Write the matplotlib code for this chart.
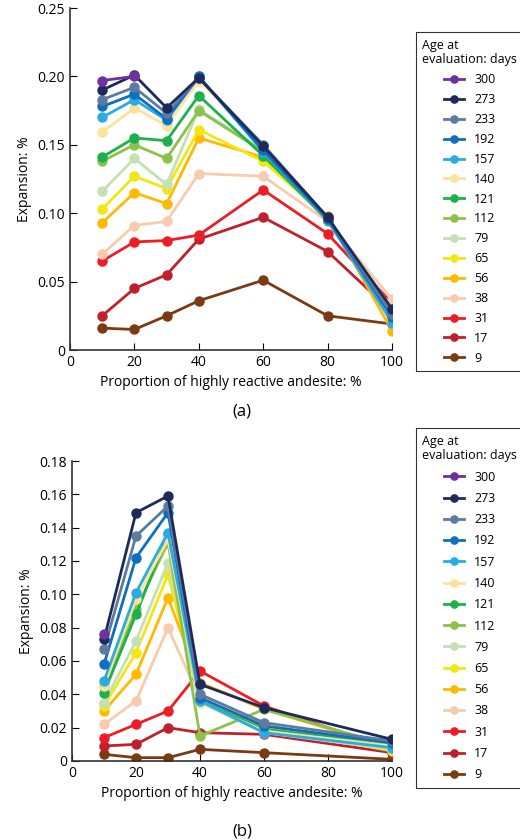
import numpy as np
import matplotlib.pyplot as plt

plt.rcParams['font.family'] = ['Open Sans', 'DejaVu Sans']

ages = [300, 273, 233, 192, 157, 140, 121, 112, 79, 65, 56, 38, 31, 17, 9]
colors = ['#7030A0', '#1F2A5C', '#5B7BA0', '#0F6EBE', '#2AACE2', '#FCE29A', '#1DB04B',
          '#8BC34A', '#C5E0B4', '#F2E615', '#FFB900', '#F8CBAD', '#EE1C25', '#C0202A', '#7B3A12']

# panel (a)
x_a = [10, 20, 30, 40, 60, 80, 100]
exp_a = {
    300: [0.197, 0.200],
    273: [0.190, 0.201, 0.177, 0.199, 0.149, 0.097, 0.030],
    233: [0.183, 0.192, 0.173, 0.199, 0.150, 0.097, 0.026],
    192: [0.178, 0.187, 0.169, 0.200, 0.146, 0.096, 0.024],
    157: [0.170, 0.183, 0.168, 0.200, 0.145, 0.095, 0.020],
    140: [0.159, 0.177, 0.164, 0.197, 0.150, 0.097, 0.030],
    121: [0.141, 0.155, 0.153, 0.186, 0.142, 0.095, 0.028],
    112: [0.138, 0.150, 0.140, 0.175, 0.145, 0.094, 0.027],
    79: [0.116, 0.140, 0.121, 0.176, 0.146, 0.095, 0.030],
    65: [0.103, 0.127, 0.118, 0.161, 0.138, 0.097, 0.025],
    56: [0.093, 0.115, 0.107, 0.155, 0.141, 0.098, 0.014],
    38: [0.070, 0.091, 0.094, 0.129, 0.127, 0.094, 0.037],
    31: [0.065, 0.079, 0.080, 0.084, 0.117, 0.085, 0.034],
    17: [0.025, 0.045, 0.055, 0.081, 0.097, 0.072, 0.028],
    9: [0.016, 0.015, 0.025, 0.036, 0.051, 0.025, 0.019],
}

# panel (b)
x_b = [10, 20, 30, 40, 60, 100]
exp_b = {
    300: [0.076],
    273: [0.073, 0.149, 0.159, 0.046, 0.032, 0.013],
    233: [0.067, 0.135, 0.153, 0.040, 0.023, 0.012],
    192: [0.058, 0.122, 0.149, 0.038, 0.021, 0.011],
    157: [0.048, 0.101, 0.137, 0.036, 0.017, 0.008],
    140: [0.045, 0.097, 0.133, 0.035, 0.018, 0.009],
    121: [0.041, 0.088, 0.136, 0.036, 0.019, 0.010],
    112: [0.045, 0.091, 0.131, 0.015, 0.031, 0.009],
    79: [0.035, 0.072, 0.119, 0.035, 0.017, 0.007],
    65: [0.033, 0.065, 0.112, 0.036, 0.020, 0.006],
    56: [0.030, 0.052, 0.098, 0.047, 0.031, 0.008],
    38: [0.022, 0.036, 0.080, 0.037, 0.022, 0.007],
    31: [0.014, 0.022, 0.030, 0.054, 0.033, 0.007],
    17: [0.009, 0.010, 0.020, 0.017, 0.016, 0.005],
    9: [0.004, 0.002, 0.002, 0.007, 0.005, 0.001],
}

W, H = 520, 840
fig = plt.figure(figsize=(W / 100, H / 100), dpi=100)


def panel(rect, xs, data, ylim, yticks, label, label_y, leg_top, spacing):
    ax = fig.add_axes(rect)
    handles = []
    # draw oldest last so it sits on top, like the original
    for age, c in reversed(list(zip(ages, colors))):
        ys = data[age]
        h, = ax.plot(xs[:len(ys)], ys, '-o', color=c, lw=2, ms=6.5, label=str(age))
        handles.append(h)
    handles = handles[::-1]
    ax.set_xlim(0, 100)
    ax.set_ylim(*ylim)
    ax.set_xticks([0, 20, 40, 60, 80, 100])
    ax.set_yticks(yticks)
    ax.set_yticklabels(['0'] + ['{:.2f}'.format(v) for v in yticks[1:]])
    for s in ['top', 'right']:
        ax.spines[s].set_visible(False)
    for s in ['left', 'bottom']:
        ax.spines[s].set_color('#333333')
        ax.spines[s].set_linewidth(1.2)
    ax.tick_params(direction='in', length=5, labelsize=10)
    ax.set_xlabel('Proportion of highly reactive andesite: %', fontsize=10)
    ax.set_ylabel('Expansion: %', fontsize=10)
    fig.text(rect[0] + rect[2] / 2 + 0.02, label_y, label, ha='center', fontsize=12)
    leg = fig.legend(handles=handles, loc='upper left', bbox_to_anchor=(410 / W, leg_top),
                     title='Age at\nevaluation: days', fontsize=9, title_fontsize=9,
                     frameon=True, fancybox=False, edgecolor='black', handlelength=1.6,
                     labelspacing=spacing, borderpad=0.5, markerscale=0.8)
    leg.get_frame().set_linewidth(0.8)
    return ax


panel([70 / W, 1 - 350 / H, 322 / W, 342 / H], x_a, exp_a, (0, 0.25),
      [0, 0.05, 0.10, 0.15, 0.20, 0.25], '(a)', 1 - 415 / H, 1 - 26 / H, 0.55)
panel([72 / W, 1 - 761 / H, 320 / W, 300 / H], x_b, exp_b, (0, 0.18),
      [0, 0.02, 0.04, 0.06, 0.08, 0.10, 0.12, 0.14, 0.16, 0.18], '(b)',
      1 - 835 / H, 1 - 422 / H, 0.66)

fig.savefig('out.png', dpi=100)
